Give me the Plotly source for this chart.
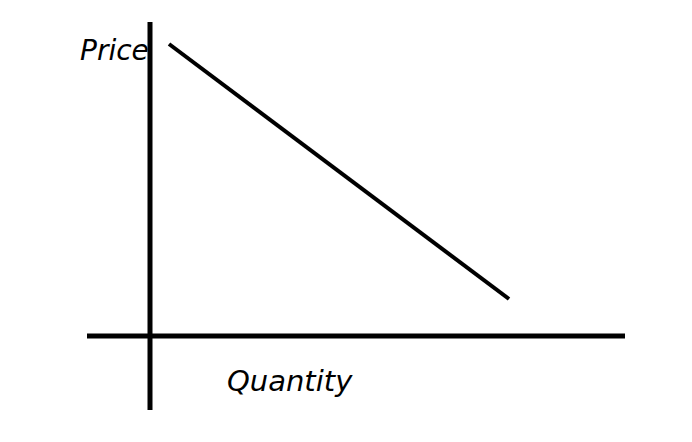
import plotly.graph_objects as go

# Data (units: arbitrary, origin at axis intersection)
demand_quantity = [19, 359]
demand_price = [292, 37]
price_axis_x = [0, 0]
price_axis_y = [314, -74]
quantity_axis_x = [-63, 475]
quantity_axis_y = [0, 0]
x_label = "Quantity"
y_label = "Price"

fig = go.Figure()
fig.add_trace(go.Scatter(x=price_axis_x, y=price_axis_y, mode="lines",
                         line=dict(color="black", width=5), hoverinfo="skip"))
fig.add_trace(go.Scatter(x=quantity_axis_x, y=quantity_axis_y, mode="lines",
                         line=dict(color="black", width=5), hoverinfo="skip"))
fig.add_trace(go.Scatter(x=demand_quantity, y=demand_price, mode="lines",
                         line=dict(color="black", width=4), hoverinfo="skip"))

fig.add_annotation(x=-36, y=286, text=y_label, showarrow=False,
                   font=dict(family="DejaVu Sans", size=28, color="black", style="italic"))
fig.add_annotation(x=140, y=-45, text=x_label, showarrow=False,
                   font=dict(family="DejaVu Sans", size=29, color="black", style="italic"))

fig.update_layout(
    width=692, height=442,
    margin=dict(l=0, r=0, t=0, b=0),
    paper_bgcolor="white", plot_bgcolor="white",
    showlegend=False,
    xaxis=dict(range=[-142, 550], visible=False, fixedrange=True),
    yaxis=dict(range=[-114, 328], visible=False, fixedrange=True),
)
fig.write_html("out.html")
